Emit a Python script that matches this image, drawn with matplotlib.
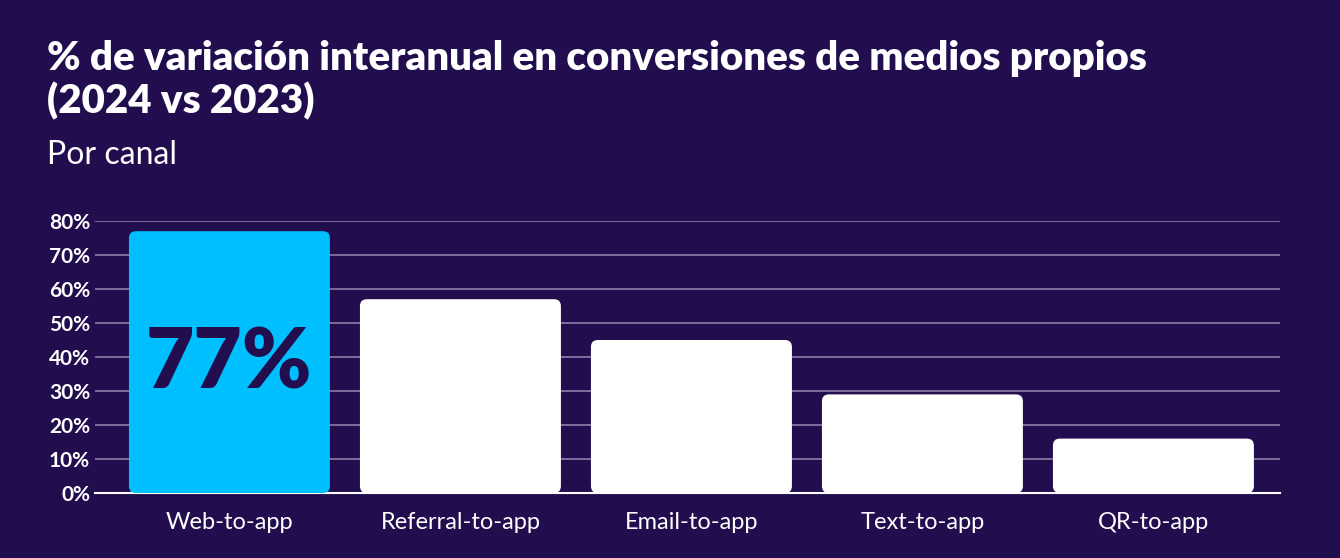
import matplotlib
matplotlib.use("Agg")
import matplotlib.pyplot as plt
from matplotlib.patches import FancyBboxPatch

categories = ["Web-to-app", "Referral-to-app", "Email-to-app", "Text-to-app", "QR-to-app"]
values = [77, 57, 45, 29, 16]
highlight = "77%"

bg = "#220e4e"
W, H = 1340, 558
fig = plt.figure(figsize=(W / 100, H / 100), dpi=100, facecolor=bg)
ax = fig.add_axes([95 / W, 1 - 493 / H, (1280 - 95) / W, (493 - 221) / H], facecolor=bg)

ax.set_xlim(-0.582, 4.548)
ax.set_ylim(0, 80)
ax.set_yticks(range(0, 81, 10))
ax.set_yticklabels([f"{v}%" for v in range(0, 81, 10)])
ax.grid(axis="y", color="#8a80a8", linewidth=1.2)
ax.set_axisbelow(True)
for s in ["top", "right", "left"]:
    ax.spines[s].set_visible(False)
ax.spines["bottom"].set_color("white")
ax.spines["bottom"].set_linewidth(1.5)
ax.tick_params(axis="both", length=0, colors="white", labelsize=15)
ax.tick_params(axis="x", pad=14)
for lbl in ax.get_yticklabels():
    lbl.set_fontweight("bold")
    lbl.set_fontfamily("Lato")
ax.set_xticks(range(len(categories)))
ax.set_xticklabels(categories, fontsize=17, fontfamily="Lato")

width = 0.87
for i, v in enumerate(values):
    color = "#00bfff" if i == 0 else "white"
    p = FancyBboxPatch((i - width / 2, 0), width, v,
                       boxstyle="round,pad=0,rounding_size=0.03",
                       mutation_aspect=80 / 272 * 231,
                       facecolor=color, edgecolor="none", zorder=3)
    ax.add_patch(p)
ax.text(0, 38, highlight, ha="center", va="center", fontsize=60,
        fontweight="heavy", color=bg, fontfamily="Lato", zorder=4)

fig.text(47 / W, 1 - 80 / H, "% de variación interanual en conversiones de medios propios\n(2024 vs 2023)",
         color="white", fontsize=29, fontweight="heavy", fontfamily="Lato",
         va="center", linespacing=1.15)
fig.text(47 / W, 1 - 155 / H, "Por canal", color="white", fontsize=23, fontfamily="Lato", va="center")

fig.savefig("out.png", dpi=100, facecolor=bg)
